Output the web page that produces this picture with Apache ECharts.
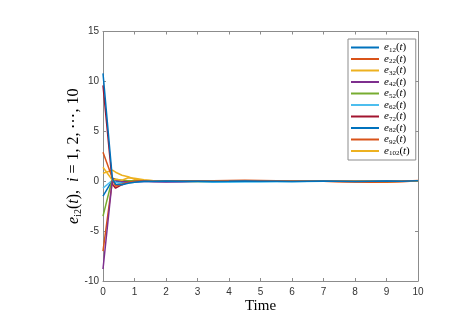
<!DOCTYPE html>
<html>
<head>
<meta charset="utf-8">
<script src="https://cdn.jsdelivr.net/npm/echarts@6/dist/echarts.min.js"></script>
<style>html,body{margin:0;padding:0;background:#fff}#c{width:453px;height:315px}</style>
</head>
<body>
<div id="c"></div>
<script>
// time samples
var times = [0, 0.3, 0.4, 0.6, 0.8, 1.0, 1.3, 1.6, 2, 2.5, 3, 3.5, 4, 4.5, 5, 5.5, 6, 6.5, 7, 7.5, 8, 8.5, 9, 9.5, 10];
// series subscripts
var subs = ['12','22','32','42','52','62','72','82','92','102'];
// series values
var e12  = [10.8, 0.2, -0.3, -0.35, -0.2, -0.1, 0, 0, 0.03, 0, 0, -0.02, 0, 0.03, 0, 0, -0.02, 0, 0.02, 0, -0.03, 0, 0.02, 0, 0.05];
var e22  = [2.9, 0.3, -0.5, -0.3, -0.1, 0, 0.05, 0, 0, 0.02, 0, 0, 0.03, 0.05, 0.04, 0.02, 0, 0, 0, -0.02, -0.05, -0.06, -0.04, 0, 0.08];
var e32  = [1.4, 0.1, 0.2, 0.1, 0.35, 0.3, 0.15, 0.05, 0, 0, -0.02, 0, 0, 0, 0.02, 0, 0, 0, 0, 0, 0, 0, -0.02, 0, 0];
var e42  = [-8.8, 0.3, 0.1, 0, -0.1, -0.05, 0, -0.05, -0.08, -0.05, 0, 0, 0, 0, 0, 0, 0, 0, 0, 0, 0, 0, 0, 0, 0];
var e52  = [-3.5, 0.3, 0.2, 0.1, 0.05, 0.05, 0.03, 0, 0, 0, 0, 0, 0, 0, 0, 0, 0, 0, 0.02, 0, 0, 0, 0, 0, 0];
var e62  = [-0.7, 0.1, -0.1, -0.2, -0.15, -0.1, -0.05, -0.05, -0.05, -0.08, -0.08, -0.1, -0.1, -0.08, -0.08, -0.05, -0.05, -0.02, 0, 0, 0, 0, 0, 0, 0];
var e72  = [9.6, -0.3, -0.7, -0.35, -0.1, 0, 0, 0, 0, 0, 0, 0, 0, 0, 0, 0, 0, 0, 0, 0, 0, 0, 0, 0, 0];
var e82  = [-1.5, 0.1, 0, -0.1, -0.05, 0, 0, 0, 0, 0, 0, 0, 0, 0, 0, 0, 0, 0, 0.03, 0.04, 0.02, 0, 0, 0, 0];
var e92  = [-7.0, 0.1, -0.4, -0.2, -0.1, 0, 0, 0, 0, 0, 0.02, 0.05, 0.08, 0.1, 0.08, 0.05, 0.02, 0, 0, -0.05, -0.08, -0.1, -0.1, -0.05, 0.05];
var e102 = [0.8, 1.1, 0.9, 0.6, 0.45, 0.2, 0.1, 0.05, 0, 0, 0, 0, 0, 0, 0, 0, 0, 0, 0, 0, 0, 0, 0, 0, 0];
var seriesValues = [e12, e22, e32, e42, e52, e62, e72, e82, e92, e102];
var colors = ['#0072BD','#D95319','#EDB120','#7E2F8E','#77AC30','#4DBEEE','#A2142F','#0072BD','#D95319','#EDB120'];
// tick settings
var xMin = 0, xMax = 10, xStep = 1;
var yMin = -10, yMax = 15, yStep = 5;

var serif = 'Liberation Serif';
var richMath = {
  e: {fontFamily: serif, fontStyle: 'italic', fontSize: 11, lineHeight: 12, color: '#000'},
  r: {fontFamily: serif, fontSize: 11, lineHeight: 12, color: '#000'},
  s: {fontFamily: serif, fontSize: 7, lineHeight: 8, verticalAlign: 'bottom', color: '#000'}
};
var richName = {
  e: {fontFamily: serif, fontStyle: 'italic', fontSize: 16, lineHeight: 18, color: '#000'},
  r: {fontFamily: serif, fontSize: 16, lineHeight: 18, color: '#000'},
  s: {fontFamily: serif, fontSize: 10, lineHeight: 11, verticalAlign: 'bottom', color: '#000'}
};

var names = subs.map(function (s) { return 'e' + s + '(t)'; });
var series = seriesValues.map(function (vals, k) {
  return {
    name: names[k], type: 'line', showSymbol: false, symbol: 'none',
    data: times.map(function (t, i) { return [t, vals[i]]; }),
    lineStyle: {width: 1.5, color: colors[k]}, itemStyle: {color: colors[k]},
    z: 10 - k
  };
});

var axisCol = '#8c8c8c';
function baseAxis(extra) {
  var a = {
    type: 'value',
    axisLine: {show: true, onZero: false, lineStyle: {color: axisCol, width: 1}},
    axisTick: {show: true, inside: true, length: 3, lineStyle: {color: axisCol}},
    splitLine: {show: false}
  };
  for (var k in extra) a[k] = extra[k];
  return a;
}
var chart = echarts.init(document.getElementById('c'), null, {renderer: 'canvas'});
chart.setOption({
  animation: false,
  backgroundColor: '#fff',
  grid: {left: 103, right: 35, top: 31.5, bottom: 34, containLabel: false, outerBoundsMode: 'none'},
  legend: {
    orient: 'vertical', left: 348, top: 39,
    data: names,
    icon: 'rect', itemWidth: 28, itemHeight: 2, itemGap: 0,
    padding: [3, 6, 3, 3],
    borderColor: axisCol, borderWidth: 1, backgroundColor: '#fff',
    formatter: function (n) {
      var s = n.slice(1, n.length - 3);
      return '{e|e}{s|' + s + '}{r|(}{e|t}{r|)}';
    },
    textStyle: {rich: richMath}
  },
  xAxis: [baseAxis({
    min: xMin, max: xMax, interval: xStep, position: 'bottom',
    name: 'Time', nameLocation: 'middle', nameGap: 18, nameMoveOverlap: false,
    nameTextStyle: {fontFamily: serif, fontSize: 15, color: '#000'},
    axisLabel: {fontFamily: 'Liberation Sans', fontSize: 10, color: '#333', margin: 6}
  }), baseAxis({
    min: xMin, max: xMax, interval: xStep, position: 'top',
    axisLabel: {show: false}
  })],
  yAxis: [baseAxis({
    min: yMin, max: yMax, interval: yStep, position: 'left',
    name: '{e|e}{s|i2}{r|(}{e|t}{r|),  }{e|i}{r| = 1, 2, ⋯, 10}',
    nameLocation: 'middle', nameGap: 20, nameRotate: 90, nameMoveOverlap: false,
    nameTextStyle: {rich: richName},
    axisLabel: {fontFamily: 'Liberation Sans', fontSize: 10, color: '#333', margin: 4}
  }), baseAxis({
    min: yMin, max: yMax, interval: yStep, position: 'right',
    axisLabel: {show: false}
  })],
  series: series
});
</script>
</body>
</html>
